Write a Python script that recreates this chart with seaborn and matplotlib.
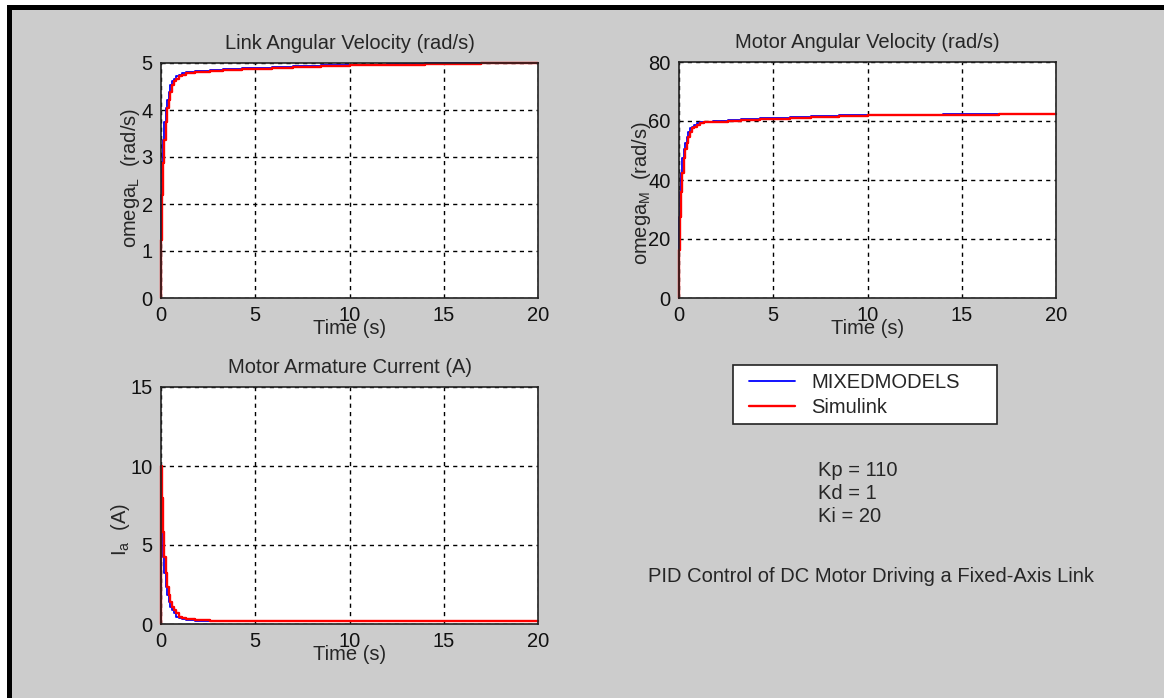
import matplotlib
matplotlib.use("Agg")
import matplotlib.pyplot as plt
from matplotlib.patches import Rectangle
import pandas as pd
import seaborn as sns

# Simulated step response of a PID-controlled DC motor driving a link
time_s = [0, 0, 0.05, 0.1, 0.17, 0.25, 0.33, 0.41, 0.5, 0.59, 0.7, 0.82, 0.95,
          1.1, 1.3, 1.8, 2.6, 3.3, 4.3, 5.9, 7.0, 8.5, 10, 12, 14, 17, 20]
omega_link = [0, 1.23, 2.19, 2.87, 3.36, 3.75, 4.04, 4.21, 4.39, 4.53, 4.62, 4.67,
              4.72, 4.75, 4.78, 4.81, 4.83, 4.85, 4.87, 4.90, 4.91, 4.93, 4.95, 4.96,
              4.97, 4.99, 5.0]
omega_motor = [0, 16.3, 27.6, 36.0, 42.3, 47.4, 50.5, 52.4, 54.7, 56.4, 57.6, 58.1,
               58.8, 59.2, 59.5, 59.8, 60.1, 60.4, 60.7, 61.1, 61.4, 61.7, 61.9, 61.9,
               61.9, 62.3, 62.3]
armature_current = [0, 10.0, 7.97, 5.84, 4.26, 3.22, 2.36, 1.84, 1.41, 1.10, 0.89, 0.68,
                    0.46, 0.36, 0.30, 0.25, 0.22, 0.21, 0.21, 0.21, 0.21, 0.21, 0.21,
                    0.21, 0.21, 0.21, 0.21]

series_names = ["MIXEDMODELS", "Simulink"]
series_colors = ["#0000ff", "#ff0000"]
x_ticks = [0, 5, 10, 15, 20]
gains_text = ["Kp = 110", "Kd = 1", "Ki = 20"]
caption = "PID Control of DC Motor Driving a Fixed-Axis Link"

panels = [
    dict(values=omega_link, title="Link Angular Velocity (rad/s)",
         ylabel="omega$_{L}$  (rad/s)", ylim=(0, 5), yticks=[0, 1, 2, 3, 4, 5],
         rect=(161, 63, 538, 298), ylab=(-0.050, 0.51)),
    dict(values=omega_motor, title="Motor Angular Velocity (rad/s)",
         ylabel="omega$_{M}$  (rad/s)", ylim=(0, 80), yticks=[0, 20, 40, 60, 80],
         rect=(679, 62, 1056, 298), ylab=(-0.070, 0.443)),
    dict(values=armature_current, title="Motor Armature Current (A)",
         ylabel="I$_{a}$  (A)", ylim=(0, 15), yticks=[0, 5, 10, 15],
         rect=(161, 387, 538, 624), ylab=(-0.078, 0.40)),
]

FS = 14.5
sns.set_style("white")
plt.rcParams["font.family"] = ["Liberation Sans", "DejaVu Sans"]
plt.rcParams["mathtext.default"] = "regular"
plt.rcParams["font.size"] = FS

W, H = 1164, 698
fig = plt.figure(figsize=(W / 100, H / 100), dpi=100, facecolor="white")

# Grey panel with heavy black frame
fig.patches.append(Rectangle((9 / W, -0.05), (1165.5 - 9) / W, 1.05 - 7.5 / H,
                             transform=fig.transFigure, facecolor="#cccccc",
                             edgecolor="black", linewidth=3.6, zorder=-10))

def px_rect(l, t, r, b):
    return [l / W, 1 - b / H, (r - l) / W, (b - t) / H]

handles = None
for p in panels:
    ax = fig.add_axes(px_rect(*p["rect"]))
    ax.set_facecolor("white")
    df = pd.DataFrame({"t": time_s, "v": p["values"]})
    sns.lineplot(data=df, x="t", y="v", ax=ax, estimator=None, sort=False,
                 drawstyle="steps-pre", color=series_colors[0], linewidth=1.3,
                 label=series_names[0], legend=False)
    sns.lineplot(data=df, x="t", y="v", ax=ax, estimator=None, sort=False,
                 drawstyle="steps-post", color=series_colors[1], linewidth=1.7,
                 label=series_names[1], legend=False)
    if handles is None:
        handles = list(ax.lines[:2])
    for ln in ax.lines:
        ln.set_clip_on(False)
    ax.set_xlim(0, 20)
    ax.set_ylim(*p["ylim"])
    ax.set_xticks(x_ticks)
    ax.set_yticks(p["yticks"])
    ax.grid(True, color="black", linestyle=(0, (3, 3)), linewidth=1.0)
    for s in ax.spines.values():
        s.set_visible(True)
        s.set_color("#222222")
        s.set_linewidth(1.2)
    ax.tick_params(direction="in", length=4, width=1, pad=6, labelsize=FS,
                   colors="#111111")
    ax.set_title(p["title"], fontsize=FS, pad=10)
    ax.set_xlabel("Time (s)", fontsize=FS, labelpad=-4.5)
    ax.set_ylabel(p["ylabel"], fontsize=FS)
    ax.yaxis.set_label_coords(*p["ylab"])

# Legend box drawn as a figure patch, entries placed inside it
fig.patches.append(Rectangle((733 / W, 1 - 424 / H), 264 / W, 59 / H,
                             transform=fig.transFigure, facecolor="white",
                             edgecolor="#222222", linewidth=1.2, zorder=1))
leg = fig.legend(handles, series_names, loc="upper left",
                 bbox_to_anchor=(749 / W, 1 - 373 / H), fontsize=FS,
                 frameon=False, borderpad=0, borderaxespad=0,
                 labelspacing=0.32, handlelength=2.3, handletextpad=0.8)
leg.set_zorder(2)

for i, s in enumerate(gains_text):
    fig.text(818 / W, 1 - (470 + 23.5 * i) / H, s, fontsize=FS, va="center", ha="left")
fig.text(871 / W, 1 - 577 / H, caption, fontsize=FS, va="center", ha="center")

fig.savefig("out.png", dpi=100, facecolor="white")
